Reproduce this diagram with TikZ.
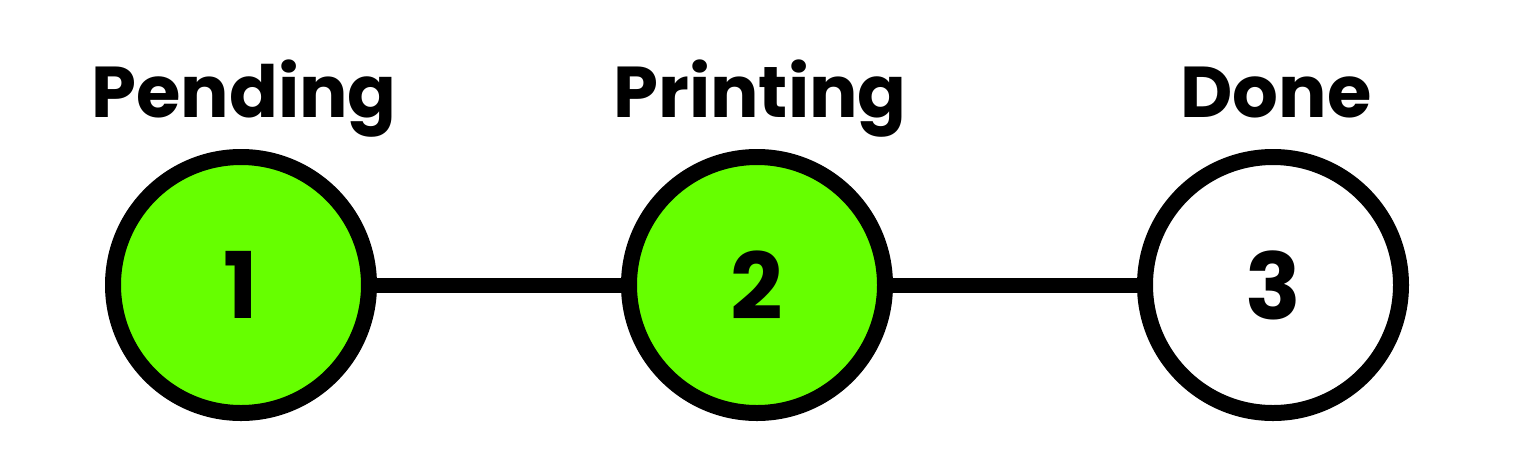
\documentclass[tikz,border=0pt]{standalone}
\usepackage{fontspec}
\setmainfont{Poppins}
\definecolor{stepgreen}{HTML}{66FF00}
\begin{document}
\begin{tikzpicture}[x=1pt,y=-1pt,
  stepcircle/.style={circle,draw=black,line width=16pt,minimum size=256pt,inner sep=0pt,
    font=\fontsize{92}{92}\selectfont\bfseries},
  done/.style={stepcircle,fill=stepgreen},
  todo/.style={stepcircle,fill=white},
  steplabel/.style={anchor=base,font=\fontsize{72}{72}\selectfont\bfseries,inner sep=0pt},
  conn/.style={line width=15pt}]
\useasboundingbox (0,0) rectangle (1535,459);
\node[done] (c1) at (241,285) {1};
\node[done] (c2) at (757,285) {2};
\node[todo] (c3) at (1273,285) {3};
\draw[conn] (c1) -- (c2);
\draw[conn] (c2) -- (c3);
\node[steplabel] (l1) at (244,117) {Pending};
\node[steplabel] (l2) at (760,117) {Printing};
\node[steplabel] (l3) at (1276,117) {Done};
\end{tikzpicture}
\end{document}
